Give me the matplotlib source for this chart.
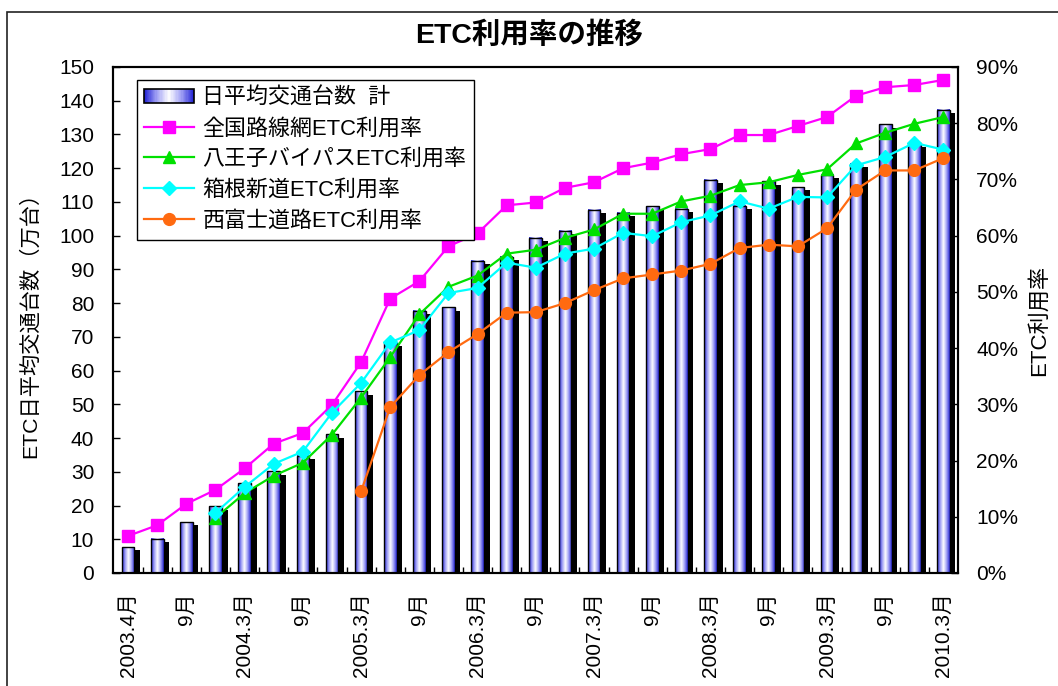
import numpy as np
import matplotlib
matplotlib.use("Agg")
import matplotlib.pyplot as plt
from matplotlib.colors import LinearSegmentedColormap
from matplotlib.patches import Rectangle
from matplotlib.legend_handler import HandlerBase
from matplotlib.ticker import PercentFormatter, MultipleLocator

plt.rcParams['font.family'] = ['Liberation Sans', 'Noto Sans CJK JP', 'DejaVu Sans']

# ---- data ----
tick_labels = ["2003.4月", "9月", "2004.3月", "9月", "2005.3月", "9月", "2006.3月", "9月",
               "2007.3月", "9月", "2008.3月", "9月", "2009.3月", "9月", "2010.3月"]
traffic = [7.7, 10.1, 15.1, 19.8, 26.6, 30.1, 34.8, 41.1, 53.9, 68.4, 77.8, 78.8, 92.6, 93.8, 99.4,
           101.4, 107.7, 106.8, 108.7, 108.0, 116.6, 108.8, 116.1, 114.4, 118.0, 121.3, 133.0, 127.4, 137.4]
nat = [6.6, 8.5, 12.3, 14.8, 18.6, 23.0, 24.9, 29.9, 37.5, 48.8, 51.9, 58.1, 60.4, 65.4, 65.9,
       68.5, 69.5, 72.0, 73.0, 74.5, 75.4, 77.9, 77.9, 79.5, 81.1, 84.9, 86.4, 86.8, 87.7]
hachioji = [None, None, None, 9.8, 14.2, 17.3, 19.6, 24.6, 31.2, 38.4, 46.0, 50.9, 52.9, 56.8, 57.5,
            59.6, 61.1, 63.9, 63.9, 66.1, 67.1, 69.0, 69.5, 70.8, 71.8, 76.4, 78.3, 79.9, 81.1]
hakone = [None, None, None, 10.7, 15.3, 19.4, 21.6, 28.5, 33.8, 41.0, 43.2, 49.8, 50.7, 55.2, 54.3,
          56.8, 57.7, 60.5, 59.9, 62.4, 63.6, 66.1, 64.8, 66.9, 66.8, 72.5, 74.0, 76.5, 75.3]
nishifuji = [None] * 8 + [14.5, 29.5, 35.2, 39.3, 42.5, 46.3, 46.4,
                          48.0, 50.3, 52.4, 53.1, 53.8, 55.0, 57.8, 58.4, 58.1, 61.3, 68.2, 71.6, 71.6, 73.8]

series = [
    ("全国路線網ETC利用率", nat, "#ff00ff", "s", 8),
    ("八王子バイパスETC利用率", hachioji, "#00e000", "^", 9),
    ("箱根新道ETC利用率", hakone, "#00ffff", "D", 7),
    ("西富士道路ETC利用率", nishifuji, "#ff6a10", "o", 8.5),
]

grad = LinearSegmentedColormap.from_list(
    "bar", ["#2626d4", "#a0a0f4", "#ffffff", "#a0a0f4", "#2626d4"])


class GradHandler(HandlerBase):
    def create_artists(self, legend, orig, xd, yd, w, h, fs, trans):
        n = 40
        arts = []
        y0, hh = -yd + h * 0.05, h * 0.9
        for k in range(n):
            arts.append(Rectangle((-xd + w * k / n, y0), w / n + 0.2, hh,
                                  fc=grad((k + 0.5) / n), ec="none", transform=trans))
        arts.append(Rectangle((-xd, y0), w, hh, fc="none", ec="black", lw=1.2, transform=trans))
        return arts


fig = plt.figure(figsize=(10.58, 6.86), dpi=100)
ax = fig.add_axes([113 / 1058, 113 / 686, 845 / 1058, 506 / 686])
ax2 = ax.twinx()

x = np.arange(len(traffic))
w = 0.436
gcol = np.linspace(0, 1, 64).reshape(1, -1)
# shadows
ax.bar(x + 0.195, np.array(traffic) - 1.0, width=w, color="black", zorder=1)
for xi, h in zip(x, traffic):
    ax.imshow(gcol, cmap=grad, extent=(xi - w / 2, xi + w / 2, 0, h), aspect="auto",
              interpolation="bilinear", zorder=2)
    ax.add_patch(Rectangle((xi - w / 2, 0), w, h, fc="none", ec="black", lw=1.0, zorder=3))

for name, vals, col, mk, ms in series:
    v = np.array([np.nan if a is None else a for a in vals], float)
    ax2.plot(x, v, color=col, marker=mk, ms=ms, lw=1.6, label=name)

ax.set_xlim(-0.52, 28.5)
ax.set_ylim(0, 150)
ax2.set_ylim(0, 90)
ax.yaxis.set_major_locator(MultipleLocator(10))
ax2.yaxis.set_major_locator(MultipleLocator(10))
ax2.yaxis.set_major_formatter(PercentFormatter(100, decimals=0))

ax.set_xticks(np.arange(0.5, 28, 1))
ax.set_xticklabels([])
ax.set_xticks(np.arange(0, 29, 2), minor=True)
ax.set_xticklabels(tick_labels, minor=True, rotation=90, fontsize=15)
ax.tick_params(axis="x", which="major", direction="in", length=4, width=1)
ax.tick_params(axis="x", which="minor", length=0, pad=14)
ax.tick_params(axis="y", direction="in", length=5, width=1, labelsize=15, pad=13.5)
ax2.tick_params(axis="y", direction="in", length=5, width=1, labelsize=15, pad=13)
for a in (ax, ax2):
    for s in a.spines.values():
        s.set_linewidth(1.5)

ax.set_ylabel("ETC日平均交通台数（万台）", fontsize=15.3, labelpad=14)
ax2.set_ylabel("ETC利用率", fontsize=16, rotation=90, labelpad=8)

fig.text(0.5, 1 - 35 / 686, "ETC利用率の推移", ha="center", va="center",
         fontsize=20.5, fontweight="bold")

bar_proxy = Rectangle((0, 0), 1, 1)
handles = [bar_proxy] + ax2.get_lines()
labels = ["日平均交通台数  計"] + [s[0] for s in series]
leg = ax2.legend(handles, labels, handler_map={Rectangle: GradHandler()},
                 loc="upper left", bbox_to_anchor=(0.028, 0.975), borderaxespad=0,
                 fontsize=15.8, frameon=True, fancybox=False, framealpha=1,
                 handlelength=2.25, handletextpad=0.4, labelspacing=0.45,
                 borderpad=0.35)
leg.get_frame().set_edgecolor("black")
leg.get_frame().set_linewidth(1.0)

fig.patches.append(Rectangle((7 / 1058, -0.05), 1.1, (686 - 12) / 686 + 0.05,
                             transform=fig.transFigure, fill=False, ec="#222222", lw=1.2))

fig.savefig("out.png", dpi=100)
